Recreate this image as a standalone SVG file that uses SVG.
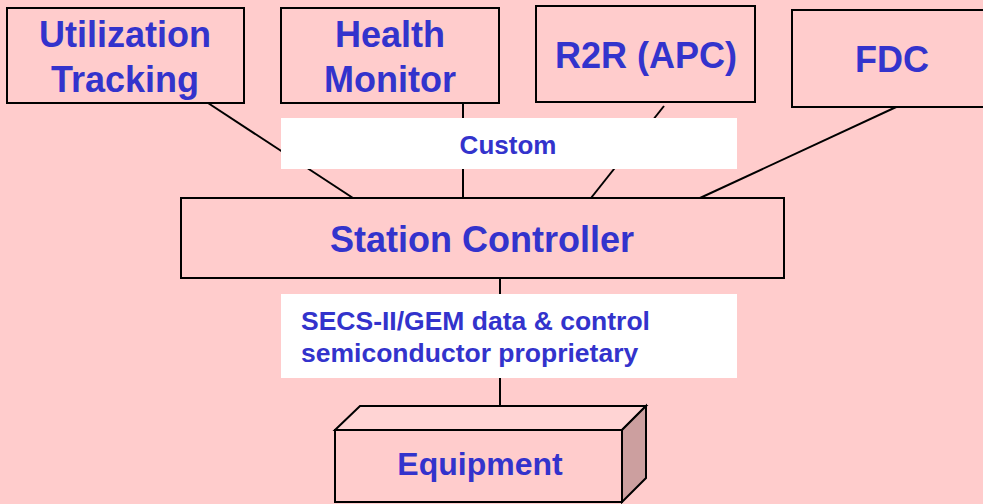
<svg xmlns="http://www.w3.org/2000/svg" width="983" height="504" viewBox="0 0 983 504">
<style>
.box{fill:#ffcccc;stroke:#000;stroke-width:2}
.lbl{fill:#ffffff;stroke:none}
.t{font-family:"Liberation Sans",Arial,sans-serif;font-weight:bold;fill:#3333cc}
.big{font-size:36px;text-anchor:middle}
.small{font-size:26.5px}
.con line{stroke:#000;stroke-width:2}
</style>
<rect x="0" y="0" width="983" height="504" fill="#ffcccc"/>
<g class="con" id="connectors">
<line x1="208" y1="103" x2="353" y2="198"/>
<line x1="463" y1="103" x2="463" y2="198"/>
<line x1="664" y1="106" x2="591" y2="198"/>
<line x1="907" y1="102" x2="700" y2="198"/>
<line x1="500" y1="278" x2="500" y2="406"/>
</g>
<g id="custom-label">
<rect class="lbl" x="281" y="118" width="456" height="51"/>
<text class="t" x="508" y="154" font-size="26" text-anchor="middle">Custom</text>
</g>
<g id="secs-label">
<rect class="lbl" x="281" y="294" width="456" height="84"/>
<text class="t small" x="301" y="330">SECS-II/GEM data &amp; control</text>
<text class="t small" x="301" y="362">semiconductor proprietary</text>
</g>
<g id="utilization">
<rect class="box" x="7" y="8" width="237" height="95"/>
<text class="t big" x="125" y="47">Utilization</text>
<text class="t big" x="125" y="92">Tracking</text>
</g>
<g id="health">
<rect class="box" x="281" y="8" width="218" height="95"/>
<text class="t big" x="390" y="47">Health</text>
<text class="t big" x="390" y="92">Monitor</text>
</g>
<g id="r2r">
<rect class="box" x="536" y="6" width="219" height="96"/>
<text class="t big" x="646" y="68">R2R (APC)</text>
</g>
<g id="fdc">
<rect class="box" x="792" y="10" width="200" height="97"/>
<text class="t big" x="892" y="72">FDC</text>
</g>
<g id="station">
<rect class="box" x="181" y="198" width="603" height="80"/>
<text class="t big" x="482" y="252">Station Controller</text>
</g>
<g id="equipment">
<polygon points="335,430 360,406 646,406 622,430" fill="#ffd4d4" stroke="#000" stroke-width="2"/>
<polygon points="622,430 646,406 646,478 622,502" fill="#cc9f9f" stroke="#000" stroke-width="2"/>
<rect class="box" x="335" y="430" width="287" height="72"/>
<text class="t" x="480" y="475" font-size="32" text-anchor="middle">Equipment</text>
</g>
</svg>
